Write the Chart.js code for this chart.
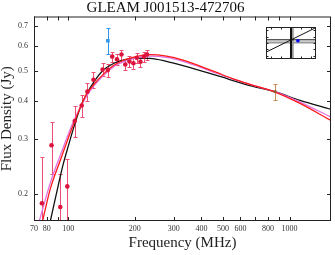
<!DOCTYPE html>
<html>
<head>
<meta charset="utf-8">
<script src="https://cdn.jsdelivr.net/npm/chart.js@4.4.0/dist/chart.umd.min.js"></script>
<style>
body{margin:0;background:#fff;}
#wrap{position:relative;width:335px;height:255px;}
#inset{position:absolute;left:262px;top:23px;}
</style>
</head>
<body>
<div id="wrap">
<canvas id="sed" width="335" height="255"></canvas>
<canvas id="inset" width="58" height="40"></canvas>
</div>
<script>
// GLEAM sub-band fluxes (Jy)
const gleamFreq = [76,84,92,99,107,115,122,130,143,151,158,166,174,181,189,197,204,212,220,227];
const gleamFlux = [0.186,0.287,0.181,0.211,0.344,0.386,0.428,0.468,0.505,0.503,0.556,0.545,0.565,0.524,0.536,0.529,0.551,0.535,0.556,0.565];
const gleamErr  = [0.077,0.055,0.051,0.048,0.040,0.032,0.030,0.028,0.025,0.025,0.021,0.021,0.021,0.021,0.021,0.021,0.021,0.021,0.021,0.021];

// other surveys
const tgssFreq = [151];
const tgssFlux = [0.626];
const tgssErr  = [0.060];
const sumssFreq = [860];
const sumssFlux = [0.428];
const sumssErr  = [0.025];

// fitted models
const blackFreq = [83,90,95,100,107,115,122,130,143,160,180,200,234,278,330,468,663,866,1115,1540];
const blackFlux = [0.163,0.212,0.250,0.285,0.336,0.390,0.425,0.458,0.500,0.528,0.543,0.550,0.549,0.537,0.520,0.483,0.448,0.427,0.401,0.375];
const redFreq = [76.5,83,92,106,120,130,143,160,180,200,234,278,330,394,468,557,663,866,1115,1540];
const redFlux = [0.163,0.2075,0.256,0.338,0.416,0.450,0.485,0.520,0.543,0.555,0.564,0.558,0.542,0.518,0.494,0.471,0.452,0.426,0.392,0.345];
const pinkFreq = [74,83,92,106,120,130,143,160,180,200,234,278,330,394,468,557,663,866,1115,1540];
const pinkFlux = [0.163,0.217,0.266,0.345,0.410,0.445,0.480,0.515,0.537,0.550,0.558,0.553,0.537,0.514,0.491,0.470,0.452,0.427,0.396,0.354];

// axis ticks
const xTicks = [70,80,90,100,200,300,400,500,600,700,800,900,1000];
const xLabels = [70,80,100,200,300,400,500,600,800,1000];
const yTicks = [0.2,0.3,0.4,0.5,0.6,0.7];

const serif = "'Liberation Serif', 'DejaVu Serif', serif";

const pts = (xs, ys) => xs.map((v, i) => ({x: v, y: ys[i]}));

// draws the vertical error bars under the markers
const errorBars = {
  id: 'errorBars',
  beforeDatasetsDraw(chart) {
    const {ctx, chartArea: a, scales: {x, y}} = chart;
    ctx.save();
    ctx.beginPath();
    ctx.rect(a.left, a.top, a.width, a.height);
    ctx.clip();
    chart.data.datasets.forEach(ds => {
      if (!ds.errors) return;
      ctx.strokeStyle = ds.errorColor;
      ctx.lineWidth = 1;
      ds.data.forEach((p, i) => {
        const e = ds.errors[i];
        const px = Math.round(x.getPixelForValue(p.x)) + 0.5;
        const top = Math.round(y.getPixelForValue(p.y + e)) + 0.5;
        const bot = Math.round(y.getPixelForValue(Math.max(p.y - e, 0.01))) + 0.5;
        ctx.beginPath();
        ctx.moveTo(px, top); ctx.lineTo(px, bot);
        ctx.moveTo(px - 2, top); ctx.lineTo(px + 2, top);
        ctx.moveTo(px - 2, bot); ctx.lineTo(px + 2, bot);
        ctx.stroke();
      });
    });
    ctx.restore();
  }
};

// box round the plot with inward ticks on all four sides
const frameTicks = {
  id: 'frameTicks',
  afterDatasetsDraw(chart, args, opts) {
    const {ctx, chartArea: a, scales: {x, y}} = chart;
    const len = opts.len;
    ctx.save();
    ctx.strokeStyle = '#222';
    ctx.lineWidth = 1;
    ctx.strokeRect(a.left + 0.5, a.top + 0.5, a.width - 1, a.height - 1);
    ctx.beginPath();
    opts.xTicks.forEach(v => {
      const px = Math.round(x.getPixelForValue(v)) + 0.5;
      ctx.moveTo(px, a.bottom); ctx.lineTo(px, a.bottom - len);
      ctx.moveTo(px, a.top); ctx.lineTo(px, a.top + len);
    });
    opts.yTicks.forEach(v => {
      const py = Math.round(y.getPixelForValue(v)) + 0.5;
      ctx.moveTo(a.left, py); ctx.lineTo(a.left + len, py);
      ctx.moveTo(a.right, py); ctx.lineTo(a.right - len, py);
    });
    ctx.stroke();
    ctx.restore();
  }
};

new Chart(document.getElementById('sed'), {
  type: 'scatter',
  data: {
    datasets: [
      {data: pts(gleamFreq, gleamFlux), errors: gleamErr, errorColor: '#ec4d70',
       backgroundColor: '#dc143c', borderWidth: 0, pointRadius: 2.3},
      {data: pts(tgssFreq, tgssFlux), errors: tgssErr, errorColor: '#2f93f0',
       backgroundColor: '#3399ee', borderWidth: 0, pointStyle: 'rect', pointRadius: 2.6},
      {data: pts(sumssFreq, sumssFlux), errors: sumssErr, errorColor: '#c98a55',
       backgroundColor: '#8b5a2b', borderWidth: 0, pointStyle: 'rect', pointRadius: 2},
      {data: pts(redFreq, redFlux), showLine: true, borderColor: '#ff1a1a', borderWidth: 1.3,
       pointRadius: 0, cubicInterpolationMode: 'monotone'},
      {data: pts(pinkFreq, pinkFlux), showLine: true, borderColor: '#e070e0', borderWidth: 1.3,
       pointRadius: 0, cubicInterpolationMode: 'monotone'},
      {data: pts(blackFreq, blackFlux), showLine: true, borderColor: '#111', borderWidth: 1.3,
       pointRadius: 0, cubicInterpolationMode: 'monotone'}
    ]
  },
  options: {
    responsive: false,
    animation: false,
    devicePixelRatio: 1,
    layout: {padding: {left: 0, right: 4, top: 0, bottom: 0}},
    plugins: {
      legend: {display: false},
      tooltip: {enabled: false},
      title: {
        display: true,
        text: 'GLEAM J001513-472706',
        color: '#111',
        font: {family: serif, size: 15, weight: 'normal', lineHeight: 1},
        padding: {top: 1, bottom: 0.5}
      },
      frameTicks: {len: 4, xTicks: xTicks, yTicks: yTicks}
    },
    scales: {
      x: {
        type: 'logarithmic',
        min: 70, max: 1540,
        afterBuildTicks: axis => { axis.ticks = xTicks.map(v => ({value: v})); },
        afterFit: axis => { axis.height = 34; },
        grid: {display: false, drawTicks: false},
        border: {display: false},
        ticks: {
          autoSkip: false, maxRotation: 0, padding: 3, color: '#333',
          font: {family: serif, size: 8},
          callback: v => xLabels.includes(v) ? String(v) : ''
        },
        title: {
          display: true, text: 'Frequency (MHz)', color: '#222',
          font: {family: serif, size: 15, lineHeight: 1},
          padding: {top: 0, bottom: 4.5}
        }
      },
      y: {
        type: 'logarithmic',
        min: 0.163, max: 0.75,
        afterBuildTicks: axis => { axis.ticks = yTicks.map(v => ({value: v})); },
        afterFit: axis => { axis.width = 34; },
        grid: {display: false, drawTicks: false},
        border: {display: false},
        ticks: {
          autoSkip: false, padding: 6, color: '#333',
          font: {family: serif, size: 8},
          callback: v => v.toFixed(1)
        },
        title: {
          display: true, text: 'Flux Density (Jy)', color: '#222',
          font: {family: serif, size: 15, lineHeight: 1},
          padding: {top: 0, bottom: 0}
        }
      }
    }
  },
  plugins: [errorBars, frameTicks]
});

// small inset panel in the top right corner
const insetTicks = [-0.8,-0.4,0,0.4,0.8];
const diagX = [-1, 1];
const diagY = [-0.574, 0.964];

const insetBg = {
  id: 'insetBg',
  beforeDraw(chart) {
    const {ctx, width, height} = chart;
    ctx.save();
    ctx.fillStyle = '#fff';
    ctx.fillRect(0, 0, width, height);
    ctx.restore();
  }
};

new Chart(document.getElementById('inset'), {
  type: 'scatter',
  data: {
    datasets: [
      {data: [{x: 0.277, y: 0.137}], backgroundColor: '#0000ff', borderWidth: 0, pointRadius: 1.8},
      {data: pts(diagX, diagY), showLine: true, borderColor: '#111', borderWidth: 1, pointRadius: 0},
      {data: [{x: -1, y: 0.2}, {x: 1, y: 0.2}], showLine: true, borderColor: '#111', borderWidth: 1, pointRadius: 0},
      {data: [{x: 0, y: -1}, {x: 0, y: 1}], showLine: true, borderColor: '#111', borderWidth: 2, pointRadius: 0},
      {data: [{x: -1, y: 0.036}, {x: 1, y: 0.036}], showLine: true, borderColor: '#9a9a9a', borderWidth: 2, pointRadius: 0},
      {data: [{x: 0.07, y: -1}, {x: 0.07, y: 1}], showLine: true, borderColor: '#9a9a9a', borderWidth: 2, pointRadius: 0}
    ]
  },
  options: {
    responsive: false,
    animation: false,
    devicePixelRatio: 1,
    layout: {padding: 0},
    plugins: {
      legend: {display: false},
      tooltip: {enabled: false},
      frameTicks: {len: 2.5, xTicks: insetTicks, yTicks: insetTicks}
    },
    scales: {
      x: {type: 'linear', min: -1, max: 1, display: false},
      y: {type: 'linear', min: -1, max: 1, display: false}
    }
  },
  plugins: [insetBg, frameTicks]
});
</script>
</body>
</html>
